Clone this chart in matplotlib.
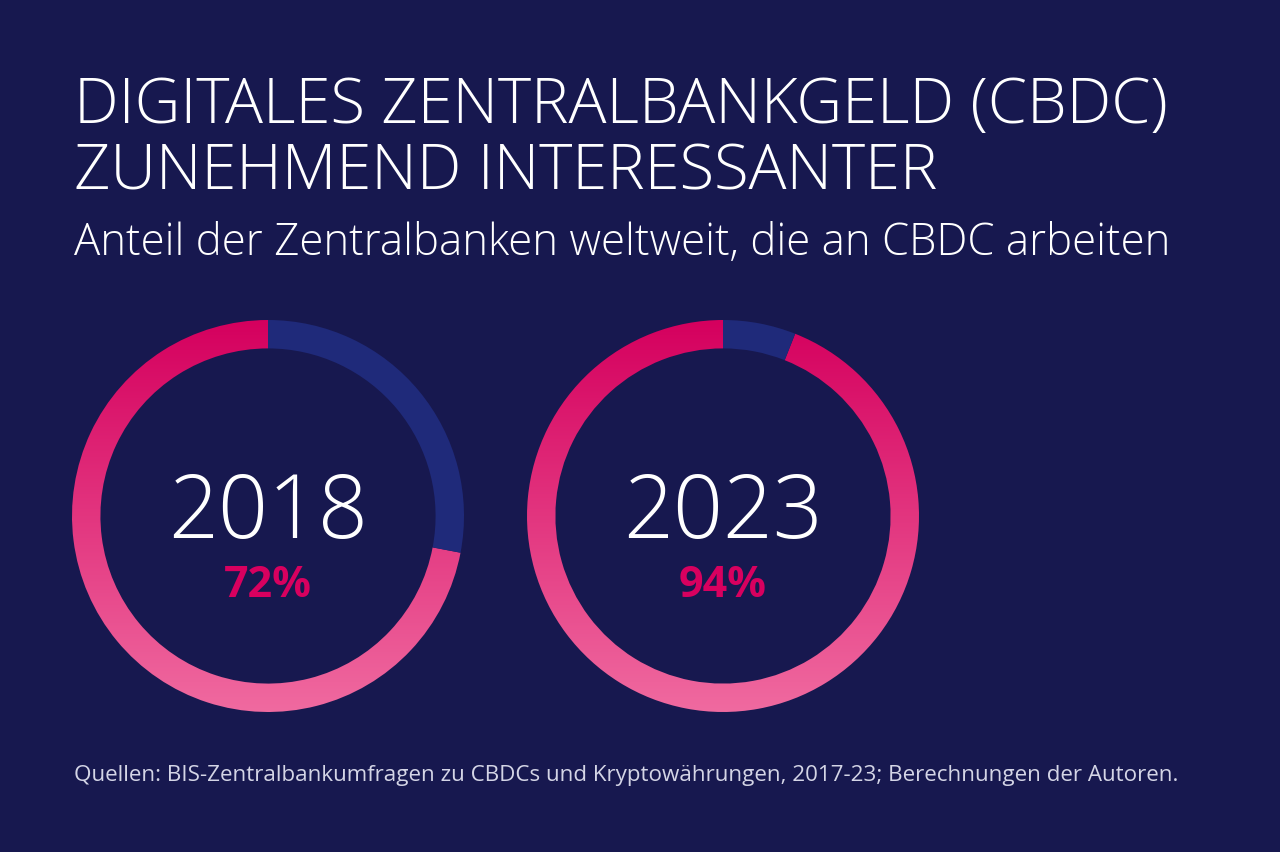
import numpy as np
import matplotlib.pyplot as plt
from matplotlib.colors import LinearSegmentedColormap

jahre = ["2018", "2023"]
anteile = [72, 94]

hintergrund = "#17184f"
blau = "#1f2a7a"
pink = "#d8005f"
verlauf = LinearSegmentedColormap.from_list("verlauf", ["#f06aa0", "#d5005e"])

plt.rcParams["font.family"] = ["Open Sans", "DejaVu Sans"]

fig = plt.figure(figsize=(12.8, 8.53), dpi=100)
fig.patch.set_facecolor(hintergrund)

# Titel und Untertitel
fig.text(74 / 1280, 1 - 123 / 853, "DIGITALES ZENTRALBANKGELD (CBDC)", color="white",
         fontsize=45.5, fontweight="light", ha="left", va="baseline")
fig.text(74 / 1280, 1 - 189 / 853, "ZUNEHMEND INTERESSANTER", color="white",
         fontsize=45.5, fontweight="light", ha="left", va="baseline")
fig.text(74 / 1280, 1 - 255 / 853, "Anteil der Zentralbanken weltweit, die an CBDC arbeiten",
         color="white", fontsize=31.5, fontweight="light", ha="left", va="baseline")
fig.text(74 / 1280, 1 - 781 / 853,
         "Quellen: BIS-Zentralbankumfragen zu CBDCs und Kryptowährungen, 2017-23; Berechnungen der Autoren.",
         color="#d4d5e6", fontsize=16.1, ha="left", va="baseline")

# Ringe
r_px = 196
mitten_x = [268, 723]
mitte_y = 517
gradient = np.linspace(0, 1, 256).reshape(-1, 1)

for jahr, anteil, mx in zip(jahre, anteile, mitten_x):
    ax = fig.add_axes([(mx - r_px) / 1280, (853 - mitte_y - r_px) / 853,
                       2 * r_px / 1280, 2 * r_px / 853])
    ax.set_facecolor("none")
    wedges, _ = ax.pie([100 - anteil, anteil], colors=[blau, "none"], startangle=90,
                       counterclock=False, radius=1,
                       wedgeprops=dict(width=0.145, linewidth=0))
    im = ax.imshow(gradient, extent=[-1, 1, -1, 1], cmap=verlauf, origin="lower",
                   aspect="auto", zorder=0.5)
    im.set_clip_path(wedges[1])
    ax.set_xlim(-1, 1)
    ax.set_ylim(-1, 1)
    ax.set_aspect("equal")
    ax.axis("off")
    ax.text(0, 0.01, jahr, color="white", fontsize=63, fontweight="light",
            ha="center", va="center")
    ax.text(0, -0.35, f"{anteil}%", color=pink, fontsize=31, fontweight="bold",
            ha="center", va="center")

plt.savefig("out.png", dpi=100, facecolor=hintergrund)
